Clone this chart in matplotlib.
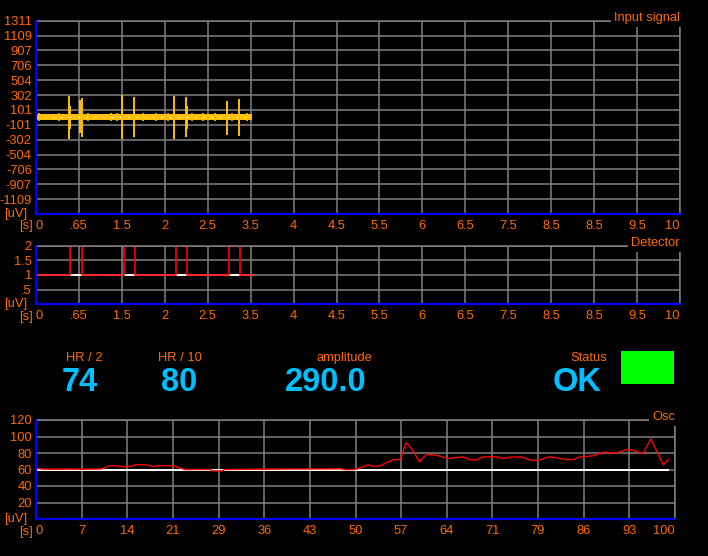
import numpy as np
import matplotlib
matplotlib.use('Agg')
import matplotlib.pyplot as plt
from matplotlib.patches import Rectangle
from matplotlib.transforms import offset_copy

plt.rcParams['font.family'] = ['Liberation Sans', 'DejaVu Sans']

ORANGE = '#ff6a00'
CYAN = '#00bfff'
GRID = '#808080'
AXBLUE = '#0000ff'
YELLOW = '#ffc000'
FS = 9.3

# --- input signal (uV over s)
sig_end = 3.35
noise_hi = 40
noise_lo = -36
spike_t = [0.517, 0.533, 0.688, 0.711, 1.340, 1.517, 2.148, 2.329, 2.350, 2.970, 3.152]
spike_top = [289, 154, 235, 262, 298, 271, 289, 271, 154, 226, 253]
spike_bot = [-289, -163, -208, -262, -298, -271, -289, -271, -163, -235, -253]
burst_t = [0.05, 0.35, 0.81, 1.17, 1.26, 1.66, 1.86, 2.05, 2.42, 2.60, 2.78, 3.05, 3.28]
burst_amp = [55, 60, 62, 58, 65, 55, 60, 58, 62, 55, 60, 58, 62]
sig_ylabels = ['', '-1109', '-907', '-706', '-504', '-302', '-101',
               '101', '302', '504', '706', '907', '1109', '1311']
time_xlabels = ['0', '.65', '1.5', '2', '2.5', '3.5', '4', '4.5', '5.5',
                '6', '6.5', '7.5', '8.5', '8.5', '9.5', '10']

# --- detector
det_on = [0.533, 1.362, 2.169, 2.992]
det_off = [0.719, 1.542, 2.349, 3.172]
det_base = 1
det_high = 2
det_ylabels = ['', '.5', '1', '1.5', '2']

# --- osc trend
osc_t = [0, 1, 3, 5, 7, 9, 10.3, 11.6, 14.4, 15.8, 17.3, 18.4, 19.4, 21.5, 22.5, 23.3,
         27.4, 27.5, 29.3, 29.4, 37.4, 47.6, 48.6, 50.2, 52.0, 52.8, 53.8, 55.9, 57.0,
         57.9, 59.0, 60.0, 61.1, 62.2, 63.2, 64.5, 65.6, 66.9, 67.9, 69.0, 70.0, 72.1,
         73.1, 74.2, 76.0, 77.0, 77.8, 78.9, 80.2, 81.5, 83.0, 84.1, 85.1, 87.2, 88.8,
         89.8, 90.9, 92.2, 93.2, 95.0, 96.2, 98.2, 98.95]
osc_v = [61.5, 60.5, 60.3, 60.5, 60.3, 60.5, 60.8, 64.8, 63.3, 66, 65.5, 63.5, 64.8,
         64.4, 61.9, 60, 60, 58.4, 58.4, 60, 60.5, 60.8, 59.6, 60.4, 65.6, 63.6, 64.4,
         72, 72, 92.7, 83, 69.3, 78.2, 77.8, 76.2, 73.3, 74.5, 75.3, 71.7, 71.7, 75.3,
         75.3, 73.3, 74.9, 75.3, 72.5, 70.9, 71.7, 75.3, 74.1, 72, 72, 75.3, 76.6, 81,
         80.2, 80.2, 83.8, 83.8, 79, 97.1, 65.6, 72]
osc_ref = 60
osc_ylabels = ['', '20', '40', '60', '80', '100', '120']
osc_xlabels = ['0', '7', '14', '21', '29', '36', '43', '50', '57', '64', '71', '79',
               '86', '93', '100']

# --- readouts
readout_names = ['HR / 2', 'HR / 10', 'amplitude', 'Status']
readout_values = ['74', '80', '290.0', 'OK']

W, H = 708, 556
fig = plt.figure(figsize=(W / 100, H / 100), dpi=100, facecolor='black')


def px_axes(x0, y0, x1, y1):
    return fig.add_axes([x0 / W, 1 - y1 / H, (x1 - x0) / W, (y1 - y0) / H])


def style(ax, xt, xl, yt, yl, title):
    ax.set_facecolor('black')
    ax.set_xticks(xt)
    ax.set_xticklabels(xl)
    ax.set_yticks(yt)
    ax.set_yticklabels(yl)
    ax.tick_params(length=0, colors=ORANGE, labelsize=FS, pad=4)
    ax.tick_params(axis='y', pad=3)
    ax.grid(True, color=GRID, lw=1.1)
    ax.set_axisbelow(True)
    for s in ['top', 'right']:
        ax.spines[s].set_color(GRID)
        ax.spines[s].set_linewidth(1.1)
    for s in ['left', 'bottom']:
        ax.spines[s].set_color(AXBLUE)
        ax.spines[s].set_linewidth(1.6)
        ax.spines[s].set_zorder(5)
    labs = ax.get_xticklabels()
    labs[0].set_ha('left')
    labs[-1].set_ha('right')
    tr = offset_copy(ax.transAxes, fig=fig, x=0, y=3, units='dots')
    ax.text(1.0, 1.0, title, transform=tr, ha='right', va='center',
            color=ORANGE, fontsize=FS,
            bbox=dict(facecolor='black', edgecolor='none', pad=2.2))


def units(ybot):
    fig.text(27 / W, 1 - ybot / H, '[uV]', color=ORANGE, fontsize=FS,
             ha='right', va='center')
    fig.text(33 / W, 1 - (ybot + 12.5) / H, '[s]', color=ORANGE, fontsize=FS,
             ha='right', va='center')


# input signal panel
ax1 = px_axes(36, 20.7, 680, 214)
ax1.set_xlim(0, 10)
ax1.set_ylim(-1311, 1311)
ax1.fill_between([0, sig_end], noise_lo, noise_hi, color=YELLOW, lw=0)
ax1.vlines(burst_t, [-a * 0.8 for a in burst_amp], burst_amp, color=YELLOW, lw=1.2)
ax1.vlines(spike_t, spike_bot, spike_top, color=YELLOW, lw=1.4)
ax1.plot([0, sig_end], [0, 0], color='white', lw=1, ls=(0, (1, 5)))
style(ax1, np.linspace(0, 10, 16), time_xlabels, np.linspace(-1311, 1311, 14),
      sig_ylabels, 'Input signal')
units(214)

# detector panel
ax2 = px_axes(36, 245.5, 680, 304.3)
ax2.set_xlim(0, 10)
ax2.set_ylim(0, 2)
dx = [0]
dy = [det_base]
for a, b in zip(det_on, det_off):
    dx += [a, a, b, b]
    dy += [det_base, det_high, det_high, det_base]
dx.append(sig_end)
dy.append(det_base)
ax2.plot([0, sig_end], [det_base, det_base], color='white', lw=1.4)
ax2.plot(dx, dy, color='red', lw=1.2)
style(ax2, np.linspace(0, 10, 16), time_xlabels, np.linspace(0, 2, 5),
      det_ylabels, 'Detector')
units(304.3)

# osc panel
ax3 = px_axes(36, 420, 675, 519)
ax3.set_xlim(0, 100)
ax3.set_ylim(0, 120)
ax3.plot([0, osc_t[-1]], [osc_ref, osc_ref], color='white', lw=1.4)
ax3.plot(osc_t, osc_v, color='red', lw=1)
style(ax3, np.linspace(0, 100, 15), osc_xlabels, np.linspace(0, 120, 7),
      osc_ylabels, 'Osc')
units(519)

# readouts
name_right = [103, 202, 372, 607]
for nm, val, xr in zip(readout_names, readout_values, name_right):
    fig.text(xr / W, 1 - 358.3 / H, nm, color=ORANGE, fontsize=FS,
             ha='right', va='center')
    fig.text((xr - 5) / W, 1 - 391 / H, val, color=CYAN, fontsize=23.5,
             fontweight='bold', ha='right', va='baseline')

fig.patches.append(Rectangle((621 / W, 1 - 384 / H), 53 / W, 33 / H,
                             transform=fig.transFigure, facecolor='#00ff00',
                             edgecolor='none'))

fig.savefig('out.png', dpi=100, facecolor='black')
